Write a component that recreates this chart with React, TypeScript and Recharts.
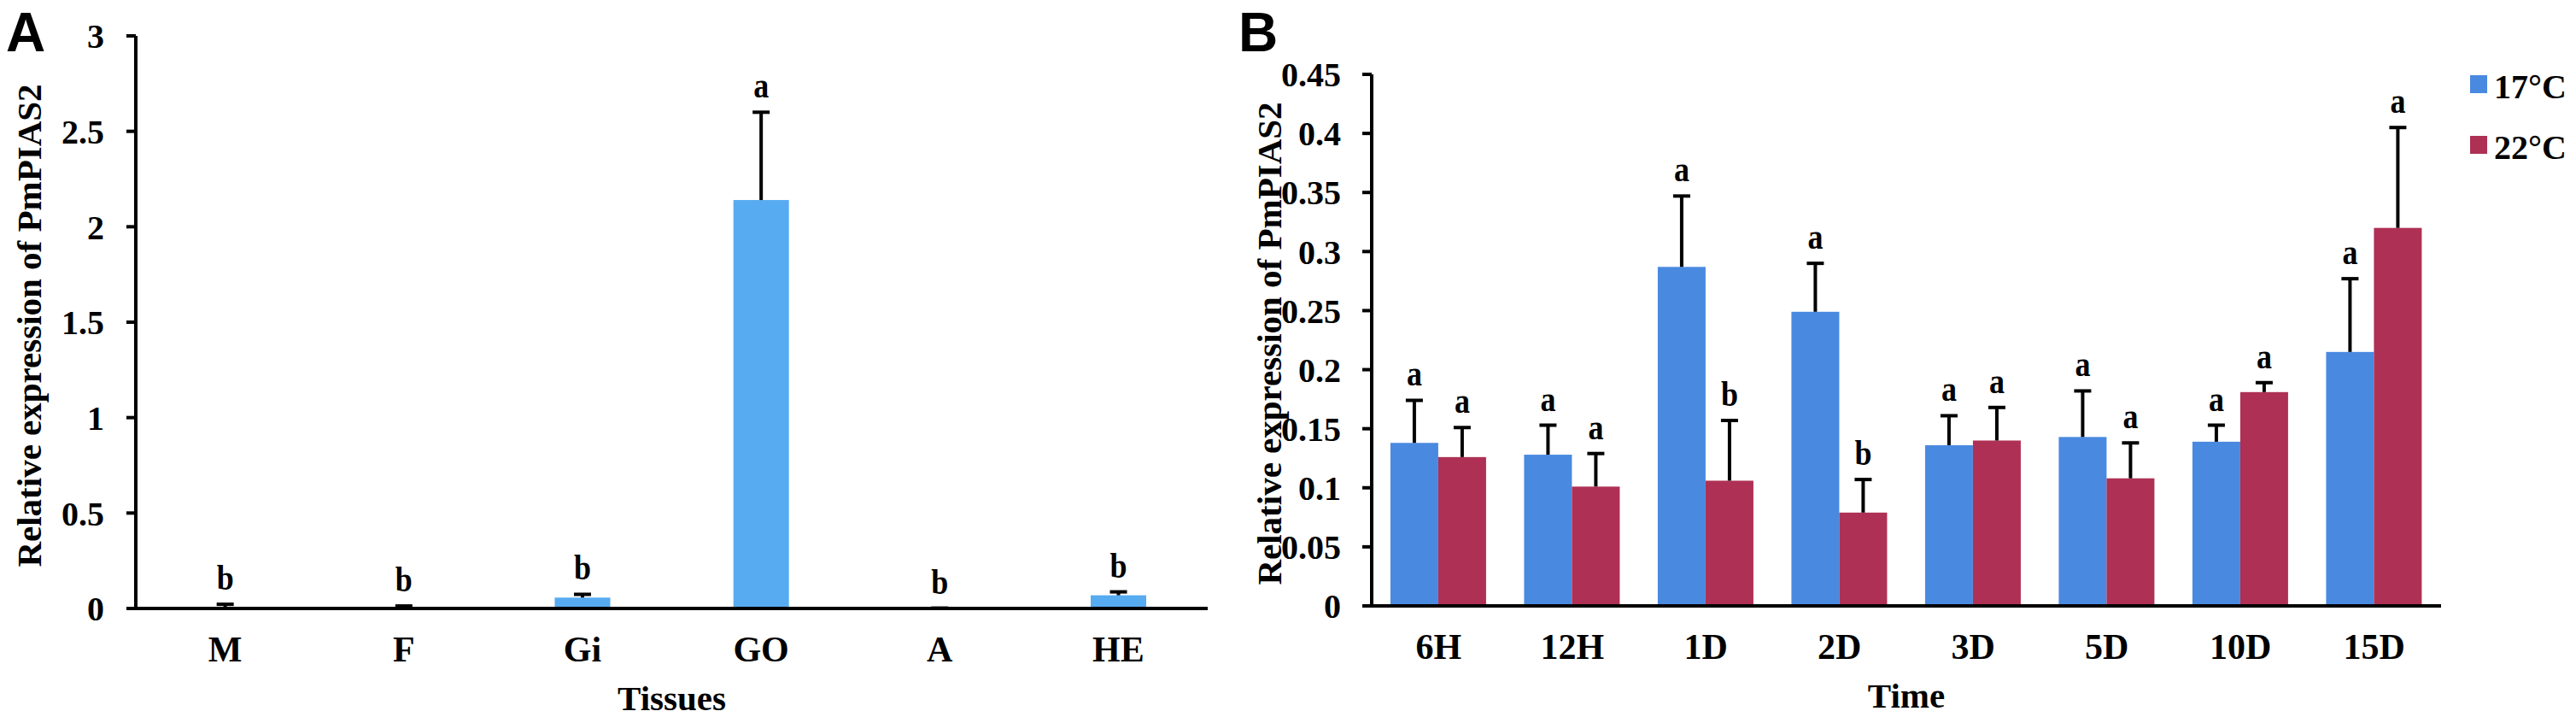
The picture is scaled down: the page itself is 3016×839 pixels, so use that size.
import { BarChart, Bar, XAxis, YAxis, Legend } from "recharts";

// panel A: tissue distribution
const tissues = ["M", "F", "Gi", "GO", "A", "HE"];
const tissueMean = [0.006, 0.002, 0.057, 2.14, 0.001, 0.069];
const tissueErr = [0.016, 0.011, 0.017, 0.46, 0.001, 0.018];
const tissueSig = ["b", "b", "b", "a", "b", "b"];
const tissueTicks = [0, 0.5, 1, 1.5, 2, 2.5, 3];

// panel B: time course at two temperatures
const times = ["6H", "12H", "1D", "2D", "3D", "5D", "10D", "15D"];
const mean17 = [0.138, 0.128, 0.287, 0.249, 0.136, 0.143, 0.139, 0.215];
const err17 = [0.036, 0.025, 0.06, 0.041, 0.025, 0.039, 0.014, 0.062];
const sig17 = ["a", "a", "a", "a", "a", "a", "a", "a"];
const mean22 = [0.126, 0.101, 0.106, 0.079, 0.14, 0.108, 0.181, 0.32];
const err22 = [0.025, 0.028, 0.051, 0.028, 0.028, 0.03, 0.008, 0.085];
const sig22 = ["a", "a", "b", "b", "a", "a", "a", "a"];
const timeTicks = [0, 0.05, 0.1, 0.15, 0.2, 0.25, 0.3, 0.35, 0.4, 0.45];

const tissueData = tissues.map((t, i) => ({
  name: t,
  mean: tissueMean[i],
  err: tissueErr[i],
  sig: tissueSig[i],
}));

const timeData = times.map((t, i) => ({
  name: t,
  m17: mean17[i],
  e17: err17[i],
  s17: sig17[i],
  m22: mean22[i],
  e22: err22[i],
  s22: sig22[i],
}));

const SERIF = "'Liberation Serif', 'Times New Roman', serif";
const BLUE_A = "#56abf1";
const BLUE = "#4a89e0";
const RED = "#ae3055";

// bar + one-sided error bar + significance letter
function barWithError(fill: string, meanKey: string, errKey: string, sigKey: string) {
  return (props: any) => {
    const { x, y, width, height, payload } = props;
    const v = payload[meanKey];
    const e = payload[errKey];
    const k = v > 0 ? height / v : 0;
    const cx = x + width / 2;
    const top = y - e * k;
    return (
      <g>
        <rect x={x} y={y} width={width} height={height} fill={fill} />
        <line x1={cx} y1={y} x2={cx} y2={top} stroke="#000" strokeWidth={4} />
        <line x1={cx - 10} y1={top} x2={cx + 10} y2={top} stroke="#000" strokeWidth={4} />
        <text
          transform={`translate(${cx},${top - 17}) scale(1,1.2)`}
          textAnchor="middle"
          fontFamily={SERIF}
          fontWeight={700}
          fontSize={36}
          fill="#000"
        >
          {payload[sigKey]}
        </text>
      </g>
    );
  };
}

const catTick = (props: any) => {
  const { x, y, payload } = props;
  return (
    <text x={x} y={y + 62} textAnchor="middle" fontFamily={SERIF} fontWeight={700} fontSize={42} fill="#000">
      {payload.value}
    </text>
  );
};

const xTitle = (text: string) => (props: any) => {
  const vb = props.viewBox;
  return (
    <text
      x={vb.x + vb.width / 2}
      y={vb.y + 119}
      textAnchor="middle"
      fontFamily={SERIF}
      fontWeight={700}
      fontSize={41}
      fill="#000"
    >
      {text}
    </text>
  );
};

const yTitle = (dx: number) => (props: any) => {
  const vb = props.viewBox;
  const cx = vb.x + dx;
  const cy = vb.y + vb.height / 2 + 4;
  return (
    <text
      transform={`translate(${cx},${cy}) rotate(-90)`}
      textAnchor="middle"
      fontFamily={SERIF}
      fontWeight={700}
      fontSize={41}
      fill="#000"
    >
      Relative expression of PmPIAS2
    </text>
  );
};

const yTick = { fontFamily: SERIF, fontWeight: 700, fontSize: 40, fill: "#000" };
const axisLine = { stroke: "#000", strokeWidth: 4 };

const legendContent = (props: any) => {
  const items = props.payload || [];
  return (
    <svg width={120} height={130}>
      {items.map((it: any, i: number) => (
        <g key={i}>
          <rect x={0} y={8 + i * 71} width={20} height={21} fill={it.color} />
          <text x={28} y={35 + i * 71} fontFamily={SERIF} fontWeight={700} fontSize={40} fill="#000">
            {it.value}
          </text>
        </g>
      ))}
    </svg>
  );
};

export default function App() {
  return (
    <div style={{ position: "absolute", left: 0, top: 0, width: 3016, height: 839, background: "#fff" }}>
      <div style={{ position: "absolute", left: 0, top: 0 }}>
        <BarChart
          width={1440}
          height={839}
          data={tissueData}
          margin={{ top: 42, right: 26, bottom: 0, left: 0 }}
          barCategoryGap="34.5%"
        >
          <XAxis
            dataKey="name"
            height={127}
            tickLine={false}
            tickSize={0}
            tickMargin={0}
            axisLine={axisLine}
            tick={catTick}
            interval={0}
            label={{ content: xTitle("Tissues") }}
          />
          <YAxis
            width={159}
            domain={[0, 3]}
            ticks={tissueTicks}
            interval={0}
            tickSize={11}
            tickMargin={26}
            axisLine={axisLine}
            tickLine={axisLine}
            tick={yTick}
            label={{ content: yTitle(48) }}
          />
          <Bar dataKey="mean" fill={BLUE_A} isAnimationActive={false} shape={barWithError(BLUE_A, "mean", "err", "sig")} />
        </BarChart>
      </div>
      <div style={{ position: "absolute", left: 1440, top: 0 }}>
        <BarChart
          width={1576}
          height={839}
          data={timeData}
          margin={{ top: 87, right: 158, bottom: 0, left: 0 }}
          barCategoryGap="14%"
          barGap={0}
        >
          <XAxis
            dataKey="name"
            height={130}
            tickLine={false}
            tickSize={0}
            tickMargin={0}
            axisLine={axisLine}
            tick={catTick}
            interval={0}
            label={{ content: xTitle("Time") }}
          />
          <YAxis
            width={166}
            domain={[0, 0.45]}
            ticks={timeTicks}
            interval={0}
            tickSize={11}
            tickMargin={25}
            axisLine={axisLine}
            tickLine={axisLine}
            tick={yTick}
            label={{ content: yTitle(60) }}
          />
          <Legend
            layout="vertical"
            align="center"
            verticalAlign="middle"
            wrapperStyle={{ left: 1452, top: 80, width: 120, height: 130 }}
            content={legendContent}
          />
          <Bar dataKey="m17" name="17°C" fill={BLUE} isAnimationActive={false} shape={barWithError(BLUE, "m17", "e17", "s17")} />
          <Bar dataKey="m22" name="22°C" fill={RED} isAnimationActive={false} shape={barWithError(RED, "m22", "e22", "s22")} />
        </BarChart>
      </div>
      <svg
        width={3016}
        height={839}
        style={{ position: "absolute", left: 0, top: 0, pointerEvents: "none" }}
      >
        <text x={7} y={60} fontFamily="'Liberation Sans', Arial, sans-serif" fontWeight={700} fontSize={64} fill="#000">
          A
        </text>
        <text x={1450} y={60} fontFamily="'Liberation Sans', Arial, sans-serif" fontWeight={700} fontSize={64} fill="#000">
          B
        </text>
      </svg>
    </div>
  );
}
